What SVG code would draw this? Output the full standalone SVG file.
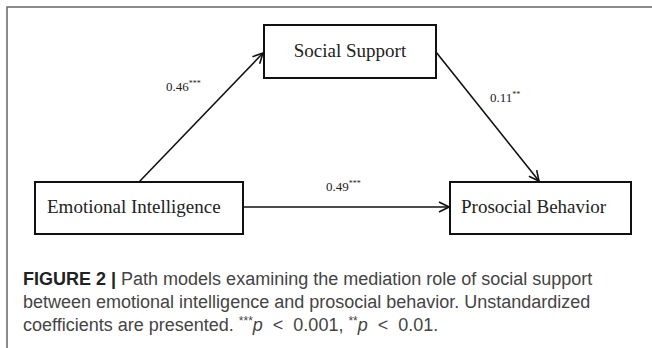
<svg xmlns="http://www.w3.org/2000/svg" width="652" height="348" viewBox="0 0 652 348">
<style>
.box{fill:#fff;stroke:#111;stroke-width:2}
.lbl{font-family:"Liberation Serif","Times New Roman",serif;font-size:19px;fill:#222}
.coef{font-family:"Liberation Serif","Times New Roman",serif;font-size:13px;fill:#222}
.sup{font-size:8px}
.edge{stroke:#111;stroke-width:1.6;fill:none;marker-end:url(#arr)}
.cap{font-family:"Liberation Sans",Arial,sans-serif;font-size:18px;fill:#444}
.capb{font-weight:bold;fill:#222}
</style>
<defs>
<marker id="arr" viewBox="0 0 12 12" refX="11" refY="6" markerWidth="12" markerHeight="12" markerUnits="userSpaceOnUse" orient="auto">
<path d="M1,1 L11,6 L1,11" fill="none" stroke="#111" stroke-width="1.6"/>
</marker>
</defs>
<rect width="652" height="348" fill="#fff"/>
<g id="frame">
<path d="M652,7 H7 V348" fill="none" stroke="#666" stroke-width="1.5"/>
</g>
<g id="connectors">
<line class="edge" x1="139" y1="182" x2="263" y2="53"/>
<line class="edge" x1="436" y1="52" x2="539" y2="181"/>
<line class="edge" x1="243" y1="207" x2="449" y2="207"/>
<text class="coef" x="166" y="91">0.46<tspan class="sup" dy="-5">***</tspan></text>
<text class="coef" x="490" y="102">0.11<tspan class="sup" dy="-5">**</tspan></text>
<text class="coef" x="326" y="191">0.49<tspan class="sup" dy="-5">***</tspan></text>
</g>
<g id="social-support">
<rect class="box" x="264" y="25" width="172" height="53"/>
<text class="lbl" x="350" y="57" text-anchor="middle">Social Support</text>
</g>
<g id="emotional-intelligence">
<rect class="box" x="35" y="182" width="208" height="52"/>
<text class="lbl" x="47" y="213">Emotional Intelligence</text>
</g>
<g id="prosocial-behavior">
<rect class="box" x="450" y="182" width="181" height="52"/>
<text class="lbl" x="461" y="213">Prosocial Behavior</text>
</g>
<g id="caption">
<text class="cap" x="23" y="285"><tspan class="capb">FIGURE 2 |</tspan> Path models examining the mediation role of social support</text>
<text class="cap" x="23" y="308">between emotional intelligence and prosocial behavior. Unstandardized</text>
<text class="cap" x="23" y="331">coefficients are presented. <tspan font-size="12" dy="-6">***</tspan><tspan dy="6" font-style="italic">p</tspan><tspan dx="5"> &lt;</tspan><tspan dx="5"> 0.001, </tspan><tspan font-size="12" dy="-6">**</tspan><tspan dy="6" font-style="italic">p</tspan><tspan dx="5"> &lt;</tspan><tspan dx="5"> 0.01.</tspan></text>
</g>
</svg>
